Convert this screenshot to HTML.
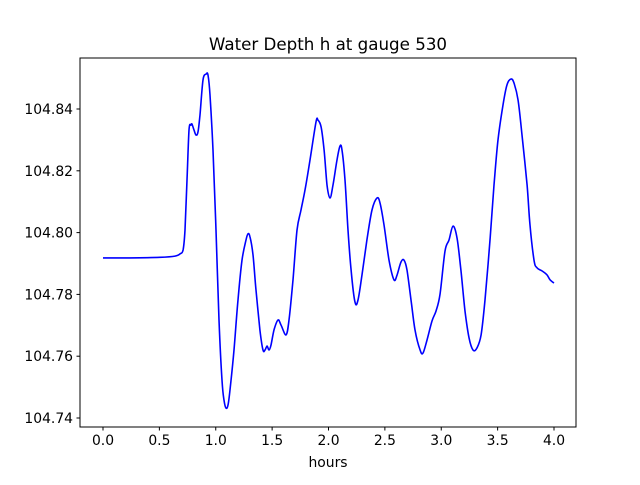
<!DOCTYPE html>
<html><head><meta charset="utf-8"><style>
body{margin:0;background:#fff;}
svg text{font-family:"DejaVu Sans","Liberation Sans",sans-serif;fill:#000;}
</style></head><body>
<svg id="chart" width="640" height="480" xmlns="http://www.w3.org/2000/svg">
<rect width="640" height="480" fill="#fff"/>
<text x="328" y="50" text-anchor="middle" font-size="16.7">Water Depth h at gauge 530</text>
<g id="ticks"></g>
<path id="series" fill="none" stroke="#0000ff" stroke-width="1.6" stroke-linejoin="round"/>
<rect x="80" y="58" width="496" height="369" fill="none" stroke="#000" stroke-width="1"/>
<text x="328" y="467" text-anchor="middle" font-size="13.9">hours</text>
</svg>
<script>
const hours=[0,0.239,0.505,0.639,0.683,0.710,0.727,0.745,0.763,0.780,0.789,0.807,0.825,0.843,0.860,0.887,0.914,0.931,0.949,0.976,1.002,1.029,1.055,1.073,1.091,1.109,1.126,1.162,1.197,1.233,1.268,1.286,1.304,1.330,1.357,1.392,1.419,1.437,1.455,1.472,1.490,1.517,1.552,1.579,1.623,1.650,1.685,1.721,1.756,1.792,1.836,1.889,1.907,1.934,1.961,1.987,2.013,2.040,2.075,2.102,2.120,2.146,2.173,2.200,2.235,2.262,2.297,2.341,2.386,2.430,2.457,2.492,2.537,2.581,2.608,2.643,2.670,2.696,2.732,2.767,2.812,2.838,2.874,2.918,2.953,2.989,3.033,3.069,3.104,3.140,3.175,3.211,3.246,3.282,3.317,3.353,3.388,3.432,3.468,3.503,3.548,3.583,3.619,3.645,3.681,3.716,3.761,3.787,3.823,3.849,3.894,3.938,3.965,4.0];
const depth=[104.7918,104.7918,104.7920,104.7924,104.7931,104.7944,104.8008,104.8170,104.8332,104.8348,104.8351,104.8332,104.8316,104.8326,104.8381,104.8494,104.8513,104.8510,104.8445,104.8267,104.8008,104.7717,104.7523,104.7458,104.7432,104.7442,104.7491,104.7620,104.7782,104.7911,104.7976,104.7996,104.7986,104.7928,104.7814,104.7685,104.7620,104.7620,104.7633,104.7620,104.7636,104.7685,104.7717,104.7701,104.7669,104.7717,104.7847,104.8008,104.8073,104.8138,104.8235,104.8358,104.8364,104.8342,104.8267,104.8154,104.8112,104.8154,104.8235,104.8280,104.8267,104.8170,104.8008,104.7879,104.7775,104.7782,104.7863,104.7976,104.8073,104.8112,104.8096,104.8025,104.7911,104.7847,104.7863,104.7905,104.7911,104.7879,104.7782,104.7685,104.7620,104.7610,104.7652,104.7714,104.7746,104.7800,104.7940,104.7976,104.8021,104.7983,104.7876,104.7746,104.7660,104.7620,104.7627,104.7669,104.7782,104.7976,104.8154,104.8300,104.8413,104.8478,104.8497,104.8484,104.8430,104.8316,104.8154,104.8025,104.7911,104.7886,104.7876,104.7863,104.7847,104.7837];
const xTicks=[0,0.5,1,1.5,2,2.5,3,3.5,4];
const xTickLabels=["0.0","0.5","1.0","1.5","2.0","2.5","3.0","3.5","4.0"];
const yTicks=[104.74,104.76,104.78,104.80,104.82,104.84];
const yTickLabels=["104.74","104.76","104.78","104.80","104.82","104.84"];
const NS="http://www.w3.org/2000/svg";
function xs(h){return 103+h*112.75;}
function ys(v){return 109+(104.84-v)/0.02*61.8;}
const g=document.getElementById('ticks');
xTicks.forEach((t,i)=>{
  const l=document.createElementNS(NS,'line');
  
  
  l.setAttribute('x1',xs(t));l.setAttribute('x2',xs(t));l.setAttribute('y1',427);l.setAttribute('y2',430.5);l.setAttribute('stroke','#000');
  g.appendChild(l);
  const tx=document.createElementNS(NS,'text');
  
  
  tx.setAttribute('x',xs(t));tx.setAttribute('y',445);tx.setAttribute('text-anchor','middle');tx.setAttribute('font-size','13.9');
  tx.textContent=xTickLabels[i];g.appendChild(tx);
});
yTicks.forEach((t,i)=>{
  const l=document.createElementNS(NS,'line');
  
  
  l.setAttribute('x1',76.5);l.setAttribute('x2',80);l.setAttribute('y1',ys(t));l.setAttribute('y2',ys(t));l.setAttribute('stroke','#000');
  g.appendChild(l);
  const tx=document.createElementNS(NS,'text');
  
  
  tx.setAttribute('x',73);tx.setAttribute('y',ys(t)+5);tx.setAttribute('text-anchor','end');tx.setAttribute('font-size','13.9');
  tx.textContent=yTickLabels[i];g.appendChild(tx);
});
const P=hours.map((h,i)=>[xs(h),ys(depth[i])]);
let d='M'+P[0][0].toFixed(1)+','+P[0][1].toFixed(1);
for(let i=0;i<P.length-1;i++){
  const p0=P[Math.max(0,i-1)],p1=P[i],p2=P[i+1],p3=P[Math.min(P.length-1,i+2)];
  const c1x=p1[0]+(p2[0]-p0[0])/6,c1y=p1[1]+(p2[1]-p0[1])/6;
  const c2x=p2[0]-(p3[0]-p1[0])/6,c2y=p2[1]-(p3[1]-p1[1])/6;
  d+=' C'+c1x.toFixed(1)+','+c1y.toFixed(1)+' '+c2x.toFixed(1)+','+c2y.toFixed(1)+' '+p2[0].toFixed(1)+','+p2[1].toFixed(1);
}
document.getElementById('series').setAttribute('d',d);
</script>
</body></html>
